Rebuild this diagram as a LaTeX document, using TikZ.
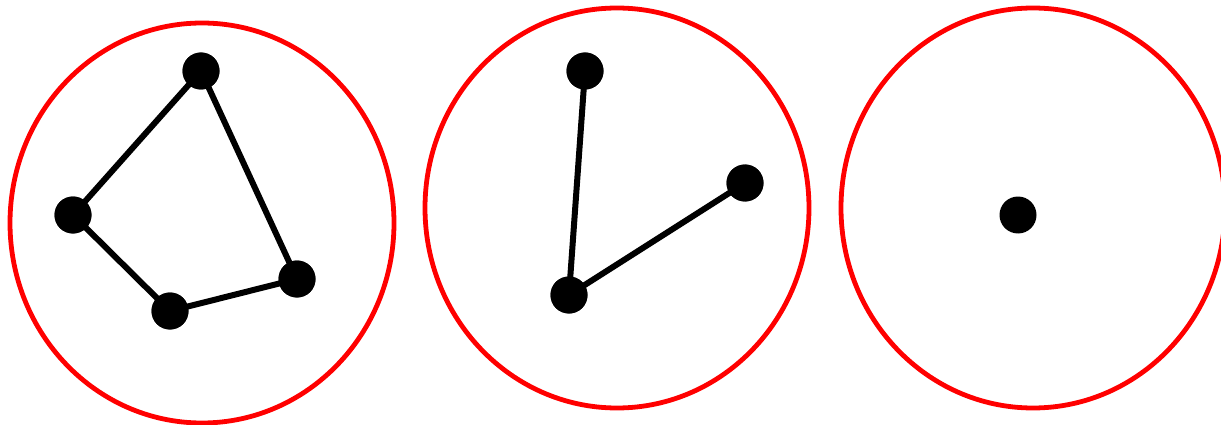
\documentclass[tikz,border=0pt]{standalone}
\begin{document}
\begin{tikzpicture}[x=1pt,y=-1pt,
  ring/.style={draw=red,line width=4.8pt},
  dot/.style={circle,fill=black,inner sep=0pt,minimum size=37pt},
  edge/.style={draw=black,line width=6pt}]
\useasboundingbox (0,0) rectangle (1221,425);
\begin{scope}
\clip (0,0) rectangle (1221,425);
\draw[ring] (202,223) ellipse [x radius=192, y radius=200];
\draw[ring] (617,208) ellipse [x radius=192, y radius=200];
\draw[ring] (1033,208) ellipse [x radius=192, y radius=200];
\end{scope}
\node[dot] (a1) at (201,71) {};
\node[dot] (a2) at (73,215) {};
\node[dot] (a3) at (170,311) {};
\node[dot] (a4) at (297,279) {};
\node[dot] (b1) at (585,71) {};
\node[dot] (b2) at (569,295) {};
\node[dot] (b3) at (745,183) {};
\node[dot] (c1) at (1018,215) {};
\path[edge] (a1.center) -- (a2.center) -- (a3.center) -- (a4.center) -- (a1.center);
\path[edge] (b1.center) -- (b2.center) -- (b3.center);
\node[dot] at (a1) {};
\node[dot] at (a2) {};
\node[dot] at (a3) {};
\node[dot] at (a4) {};
\node[dot] at (b1) {};
\node[dot] at (b2) {};
\node[dot] at (b3) {};
\end{tikzpicture}
\end{document}
